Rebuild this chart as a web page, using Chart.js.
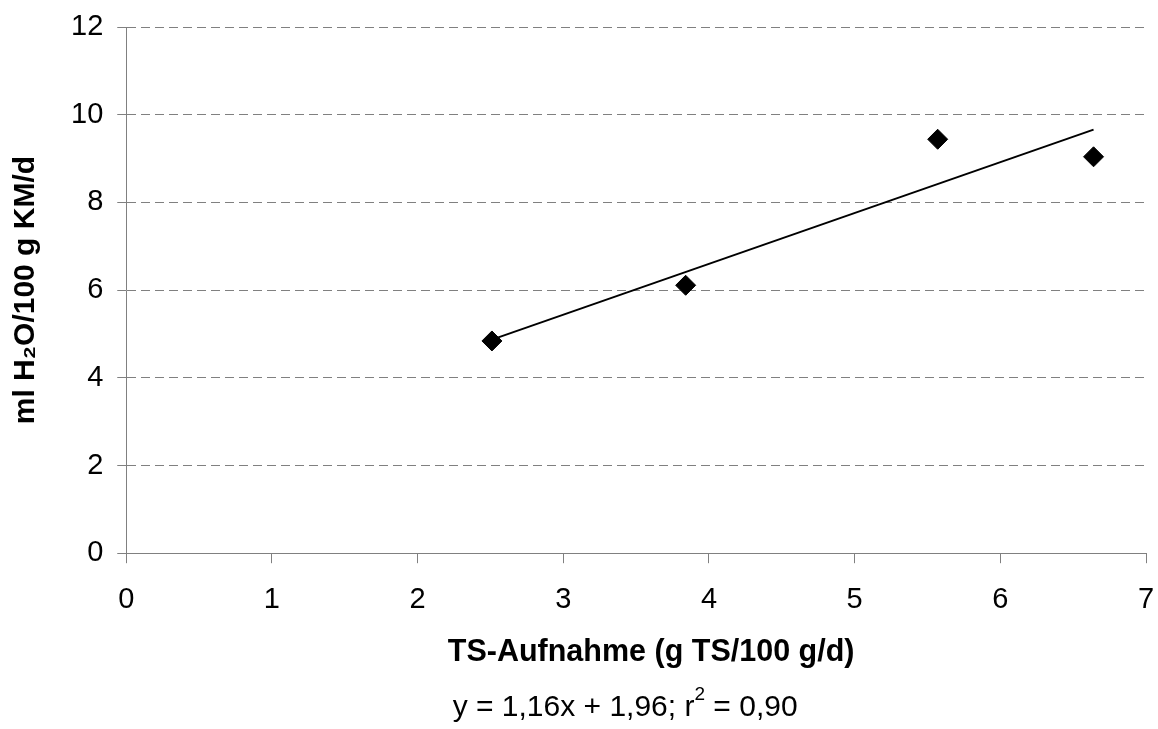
<!DOCTYPE html>
<html lang="de"><head>
  <meta charset="UTF-8">
  <title>TS-Aufnahme vs. Wasseraufnahme</title>
  <script src="https://cdn.jsdelivr.net/npm/chart.js"></script>
  <style>
    body { margin: 0; background: #fff; }
    #wrap { width: 1158px; height: 729px; }
  </style>
</head><body>
<div id="wrap"><canvas id="chart"></canvas></div>
<script>
  // measured points
  const tsIntake = [2.51, 3.84, 5.57, 6.64];
  const waterIntake = [4.84, 6.11, 9.44, 9.04];
  // regression line end points
  const trendX = [2.51, 6.64];
  const trendY = [4.87, 9.66];
  const xTicks = [0, 1, 2, 3, 4, 5, 6, 7];
  const yTicks = [0, 2, 4, 6, 8, 10, 12];

  const xTitle = 'TS-Aufnahme (g TS/100 g/d)';
  const yTitle = 'ml H₂O/100 g KM/d';
  const eqParts = ['y = 1,16x + 1,96; r', '2', ' = 0,90'];

  const FONT = "'Liberation Sans', Arial, sans-serif";
  const GRAY = '#808080';

  const points = tsIntake.map((x, i) => ({ x: x, y: waterIntake[i] }));
  const trend = trendX.map((x, i) => ({ x: x, y: trendY[i] }));

  // x axis title and the regression equation sit below the axis, a bit off centre
  const bottomText = {
    id: 'bottomText',
    afterDraw(chart) {
      const { ctx, chartArea } = chart;
      const mid = (chartArea.left + chartArea.right) / 2;
      ctx.save();
      ctx.fillStyle = '#000';
      ctx.textBaseline = 'middle';
      ctx.textAlign = 'center';
      ctx.font = 'bold 30.5px ' + FONT;
      ctx.fillText(xTitle, mid + 15, chartArea.bottom + 99);

      const big = 'normal 30px ' + FONT, small = 'normal 19px ' + FONT;
      ctx.font = big;
      const w0 = ctx.measureText(eqParts[0]).width;
      const w2 = ctx.measureText(eqParts[2]).width;
      ctx.font = small;
      const w1 = ctx.measureText(eqParts[1]).width;
      let x = mid - 11 - (w0 + w1 + w2) / 2;
      const y = chartArea.bottom + 155;
      ctx.textAlign = 'left';
      ctx.font = big;
      ctx.fillText(eqParts[0], x, y);
      x += w0;
      ctx.font = small;
      ctx.fillText(eqParts[1], x, y - 13);
      x += w1;
      ctx.font = big;
      ctx.fillText(eqParts[2], x, y);
      ctx.restore();
    }
  };

  const ctx = document.getElementById('chart').getContext('2d');
  new Chart(ctx, {
    type: 'scatter',
    data: {
      datasets: [
        {
          label: 'Messwerte',
          data: points,
          pointStyle: 'rectRot',
          pointRadius: 10,
          pointHoverRadius: 10,
          backgroundColor: '#000',
          borderColor: '#000',
          borderWidth: 1
        },
        {
          label: 'Regression',
          data: trend,
          showLine: true,
          pointRadius: 0,
          borderColor: '#000',
          borderWidth: 2,
          fill: false
        }
      ]
    },
    options: {
      responsive: true,
      maintainAspectRatio: false,
      animation: false,
      layout: { padding: { top: 0, right: 0, left: 8, bottom: 93 } },
      plugins: {
        legend: { display: false },
        tooltip: { enabled: false }
      },
      scales: {
        x: {
          type: 'linear',
          min: 0,
          max: 7,
          afterBuildTicks: s => { s.ticks = xTicks.map(v => ({ value: v })); },
          afterFit: s => { s.paddingLeft = 0; s.paddingRight = 12; },
          grid: { drawOnChartArea: false, drawTicks: true, tickLength: 10, color: GRAY },
          border: { display: true, color: GRAY, width: 1 },
          ticks: { color: '#000', font: { family: FONT, size: 29 }, padding: 19 }
        },
        y: {
          type: 'linear',
          min: 0,
          max: 12,
          afterBuildTicks: s => { s.ticks = yTicks.map(v => ({ value: v })); },
          afterFit: s => { s.paddingTop = 27; s.paddingBottom = 0; },
          grid: { color: GRAY, tickLength: 9, tickColor: GRAY },
          border: { display: true, color: GRAY, width: 1, dash: [9, 5] },
          ticks: { color: '#000', font: { family: FONT, size: 29 }, padding: 14 },
          title: {
            display: true,
            text: yTitle,
            color: '#000',
            font: { family: FONT, size: 30, weight: 'bold' },
            padding: { top: 0, bottom: 13 }
          }
        }
      }
    },
    plugins: [bottomText]
  });
</script>
</body></html>
